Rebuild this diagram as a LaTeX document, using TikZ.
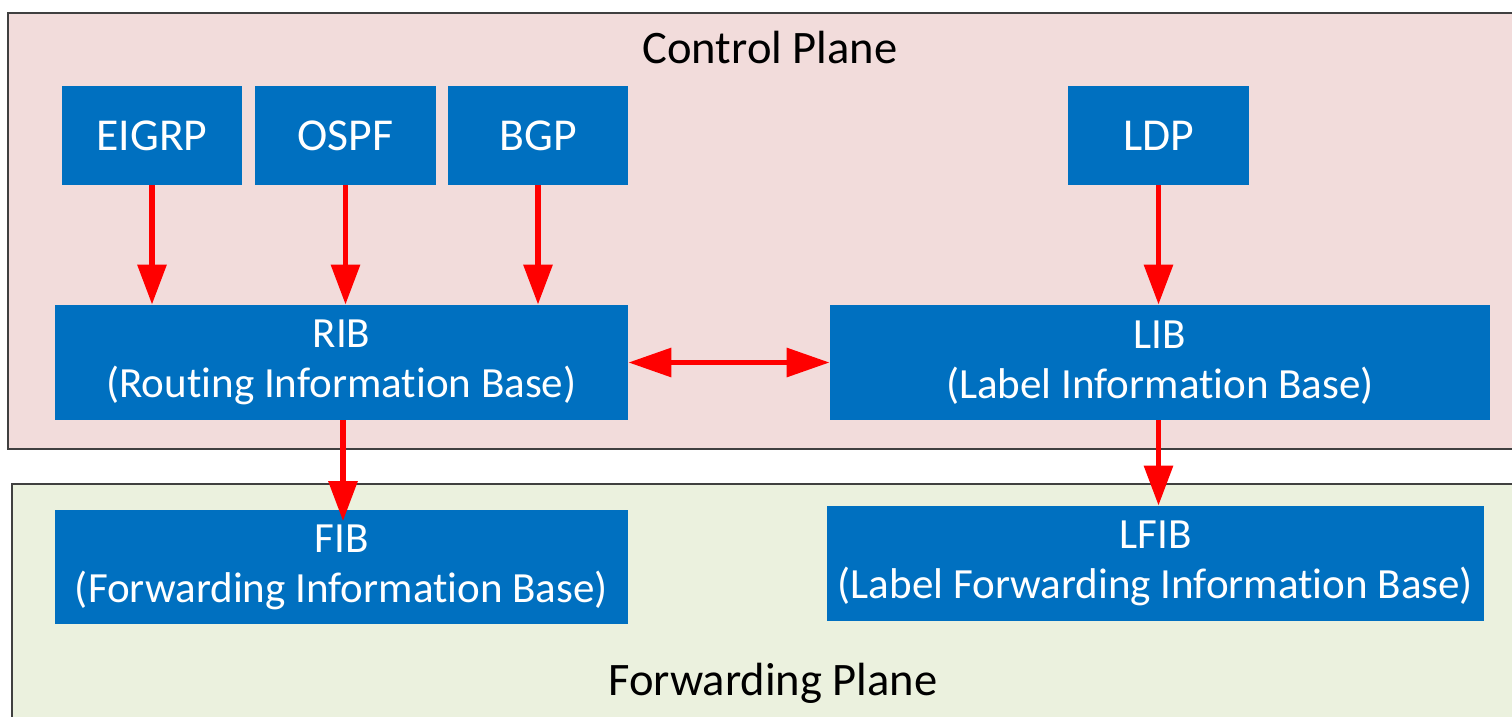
\documentclass[tikz,border=0pt]{standalone}
\usepackage{fontspec}
\setmainfont{Carlito}[RawFeature={-liga}]
\usepackage{tikz}
\usetikzlibrary{arrows.meta, positioning, calc}
\definecolor{mplsBlue}{HTML}{0070C0}
\definecolor{mplsCtrl}{HTML}{F2DCDB}
\definecolor{mplsFwd}{HTML}{EBF1DE}
\definecolor{mplsEdge}{HTML}{404040}
\definecolor{mplsRed}{HTML}{FF0000}
\tikzset{
  proto/.style={
    fill=mplsBlue, text=white, inner sep=0pt,
    minimum width=3.62cm, minimum height=1.98cm,
    font=\fontsize{26}{30}\selectfont
  },
  infobase/.style={
    fill=mplsBlue, text=white, inner sep=0pt, align=center,
    minimum height=2.3cm,
    font=\fontsize{24.5}{28.5}\selectfont
  },
  plane/.style={draw=mplsEdge, line width=1.1pt},
  planelabel/.style={font=\fontsize{26.5}{30}\selectfont},
  link/.style={-{Triangle[length=0.8cm, width=0.56cm]}, line width=3.4pt, mplsRed},
  biglink/.style={{Triangle[length=0.86cm, width=0.56cm]}-{Triangle[length=0.86cm, width=0.56cm]}, line width=3.4pt, mplsRed}
}
\begin{document}
\begin{tikzpicture}[x=0.02cm, y=-0.02cm]
  \useasboundingbox (0,0) rectangle (1512,717);
  \clip (0,0) rectangle (1512,717);
  % planes
  \draw[plane, fill=mplsCtrl] (8,13) rectangle (1540,449);
  \draw[plane, fill=mplsFwd] (12,484) rectangle (1540,760);
  \node[planelabel] (ctrl) at (770,48) {Control Plane};
  \node[planelabel] (fwd) at (773,683) {Forwarding Plane};

  % routing protocols
  \node[proto] (eigrp) at (152,135.5) {EIGRP};
  \node[proto] (ospf) at (345.5,135.5) {OSPF};
  \node[proto] (bgp) at (538,135.5) {BGP};
  \node[proto] (ldp) at (1158.5,135.5) {LDP};

  % tables
  \node[infobase, minimum width=11.46cm] (rib) at (341.5,362.5) {RIB\\(Routing Information Base)};
  \node[infobase, minimum width=13.2cm] (lib) at (1160,362.5) {LIB\\(Label Information Base)};
  \node[infobase, minimum width=11.46cm] (fib) at (341.5,567) {FIB\\(Forwarding Information Base)};
  \node[infobase, minimum width=13.14cm] (lfib) at (1155.5,563.5) {LFIB\\(Label Forwarding Information Base)};

  % connectors
  \draw[link] (eigrp.south) -- (eigrp.south |- rib.north);
  \draw[link] (ospf.south) -- (ospf.south |- rib.north);
  \draw[link] (bgp.south) -- (bgp.south |- rib.north);
  \draw[link] (ldp.south) -- (ldp.south |- lib.north);
  \draw[link] ($(rib.south)+(1.5,0)$) -- ($(fib.north)+(1.5,12)$);
  \draw[link] (lib.south -| ldp.south) -- (lfib.north -| ldp.south);
  \draw[biglink] (rib.east) -- (lib.west);
\end{tikzpicture}
\end{document}
